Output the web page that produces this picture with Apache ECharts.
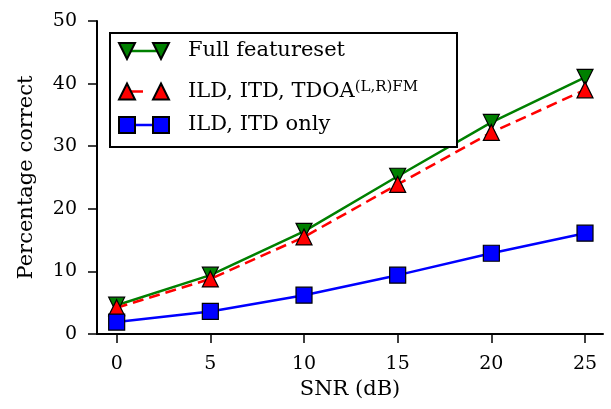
<!DOCTYPE html>
<html>
<head>
<meta charset="utf-8">
<script src="https://cdn.jsdelivr.net/npm/echarts@6/dist/echarts.min.js"></script>
<style>
  html, body { margin: 0; padding: 0; background: #fff; }
  #chart { width: 611px; height: 409px; }
</style>
</head>
<body>
<div id="chart"></div>
<script>
// values
const snrValues = [0, 5, 10, 15, 20, 25];
const fullFeatureset = [4.6, 9.4, 16.4, 25.2, 33.8, 41.0];
const ildItdTdoa = [4.2, 8.8, 15.5, 23.9, 32.2, 39.0];
const ildItdOnly = [1.9, 3.6, 6.2, 9.4, 12.9, 16.1];
const xTicks = [0, 5, 10, 15, 20, 25];
const seriesNames = ['Full featureset', 'ILD, ITD, TDOA(L,R)FM', 'ILD, ITD only'];

const FONT = "'DejaVu Serif', serif";

const chart = echarts.init(document.getElementById('chart'));

function pairs(vals) {
  return snrValues.map((x, i) => [x, vals[i]]);
}

function lineSeries(name, vals, color, symbol, rotate, dashed) {
  return {
    name: name,
    type: 'line',
    data: pairs(vals),
    symbol: symbol,
    symbolRotate: rotate,
    symbolSize: 16,
    showAllSymbol: true,
    itemStyle: { color: color, borderColor: '#000', borderWidth: 1.2 },
    lineStyle: { color: color, width: 2.5, type: dashed ? [11, 6] : 'solid' },
    emphasis: { disabled: true },
    z: 2
  };
}

// legend: one row per series, markers+text on top of a line piece
const markerIcons = [
  'path://M0,0H16L8,16Z M34,0H50L42,16Z',
  'path://M8,0L16,16H0Z M42,0L50,16H34Z',
  'path://M0,0H16V16H0Z M34,0H50V16H34Z'
];
const barIcons = [
  'path://M0,0H33V2.5H0Z',
  'path://M0,0H16V2.5H0Z',
  'path://M0,0H33V2.5H0Z'
];
const barWidths = [33, 16, 33];
const rowCenters = [51, 91.5, 125];

const textStyle = {
  fontFamily: FONT,
  fontSize: 21,
  color: '#000',
  lineHeight: 24,
  padding: [0, 0, 0, 14],
  rich: {
    b: { fontFamily: FONT, fontSize: 21, lineHeight: 24, color: '#000' },
    s: { fontFamily: FONT, fontSize: 15, lineHeight: 15, verticalAlign: 'top', color: '#000' }
  }
};

const legends = [];
seriesNames.forEach((name, i) => {
  legends.push({
    data: [{ name: name, icon: barIcons[i] }],
    orient: 'vertical',
    left: 127,
    top: rowCenters[i] - 12,
    padding: 0,
    itemWidth: barWidths[i],
    itemHeight: 16,
    symbolRotate: 0,
    itemStyle: { borderWidth: 0 },
    formatter: () => ' ',
    textStyle: textStyle,
    selectedMode: false,
    z: 5
  });
  legends.push({
    data: [{ name: name, icon: markerIcons[i] }],
    orient: 'vertical',
    left: 118,
    top: rowCenters[i] - 12,
    padding: 0,
    itemWidth: 50,
    itemHeight: 16,
    symbolRotate: 0,
    formatter: (n) => n === seriesNames[1] ? '{b|ILD, ITD, TDOA}{s|(L,R)FM}' : n,
    textStyle: textStyle,
    selectedMode: false,
    z: 6
  });
});

const option = {
  animation: false,
  backgroundColor: '#fff',
  grid: { left: 97, top: 21, right: 8, bottom: 75, containLabel: false },
  xAxis: {
    type: 'value',
    min: -1.05,
    max: 25.96,
    name: 'SNR (dB)',
    nameLocation: 'middle',
    nameGap: 45,
    nameTextStyle: { fontFamily: FONT, fontSize: 21, color: '#000' },
    axisLine: { onZero: false, lineStyle: { color: '#000', width: 2 } },
    axisTick: { inside: false, length: 9, customValues: xTicks, lineStyle: { color: '#000', width: 1.5 } },
    axisLabel: { customValues: xTicks, margin: 21, fontFamily: FONT, fontSize: 19, color: '#000' },
    splitLine: { show: false }
  },
  yAxis: {
    type: 'value',
    min: 0,
    max: 50,
    interval: 10,
    name: 'Percentage correct',
    nameLocation: 'middle',
    nameGap: 60,
    nameTextStyle: { fontFamily: FONT, fontSize: 21, color: '#000' },
    axisLine: { show: true, onZero: false, lineStyle: { color: '#000', width: 2 } },
    axisTick: { show: true, inside: false, length: 9, lineStyle: { color: '#000', width: 1.5 } },
    axisLabel: { margin: 20, fontFamily: FONT, fontSize: 19, color: '#000' },
    splitLine: { show: false }
  },
  legend: legends,
  graphic: {
    elements: [{
      type: 'rect',
      shape: { x: 110, y: 33, width: 347, height: 114 },
      style: { fill: '#fff', stroke: '#000', lineWidth: 2 },
      z: 3
    }]
  },
  series: [
    lineSeries(seriesNames[0], fullFeatureset, '#008000', 'triangle', 180, false),
    lineSeries(seriesNames[1], ildItdTdoa, '#ff0000', 'triangle', 0, true),
    lineSeries(seriesNames[2], ildItdOnly, '#0000ff', 'rect', 0, false)
  ]
};

chart.setOption(option);
</script>
</body>
</html>
